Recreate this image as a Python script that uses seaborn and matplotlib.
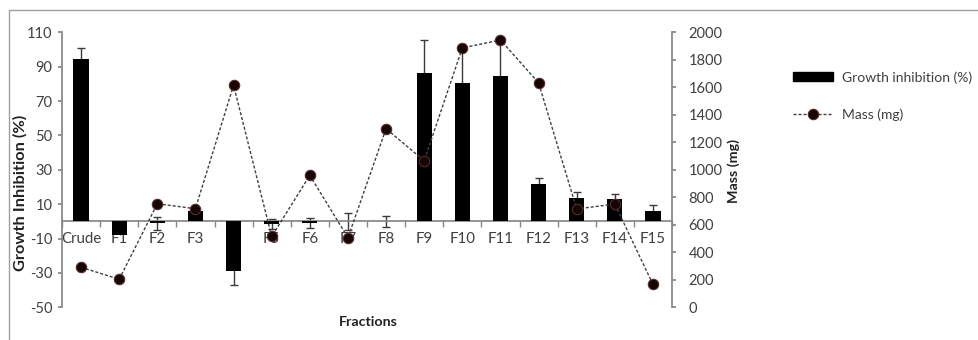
import matplotlib
matplotlib.use('Agg')
import matplotlib.pyplot as plt
import seaborn as sns
import numpy as np
from matplotlib.lines import Line2D
from matplotlib.patches import Patch

categories = ['Crude', 'F1', 'F2', 'F3', 'F4', 'F5', 'F6', 'F7', 'F8',
              'F9', 'F10', 'F11', 'F12', 'F13', 'F14', 'F15']
growth = [94.5, -7.8, -1.1, 5.8, -29.0, -1.7, -1.0, 0.0, 0.0,
          86.5, 80.5, 84.5, 22.0, 13.7, 12.8, 6.0]
growth_err = [6.5, 0, 3.8, 0, 8.0, 2.8, 3.0, 5.0, 3.0,
              19.0, 22.0, 20.0, 3.0, 3.2, 3.0, 3.3]
mass = [291, 204, 753, 717, 1615, 515, 960, 506, 1299,
        1066, 1886, 1944, 1633, 715, 751, 167]
left_ticks = list(range(-50, 111, 20))
right_ticks = list(range(0, 2001, 200))

GRAY = '#868686'
TXT = '#404040'

sns.set_theme(style='white')
plt.rcParams['font.family'] = ['Lato', 'DejaVu Sans']
plt.rcParams['axes.unicode_minus'] = False

fig = plt.figure(figsize=(9.79, 3.4), dpi=100)
ax = fig.add_axes([62 / 979, 1 - 307.3 / 340, 610 / 979, 275 / 340])

pos = np.arange(len(categories))
sns.barplot(x=categories, y=growth, order=categories, ax=ax, color='black',
            saturation=1, width=0.4, linewidth=0, zorder=3)

g = np.array(growth)
e = np.array(growth_err)
m = e > 0
ax.errorbar(pos[m], g[m], yerr=e[m], fmt='none', ecolor='#3a3a3a',
            elinewidth=1, capsize=3, capthick=1, zorder=2)

ax.set_xlim(-0.5, 15.5)
ax.set_ylim(-50, 110)
ax.set_yticks(left_ticks)
ax.set_xticks(np.arange(-0.5, 15.6, 1), minor=True)
for s in ['top', 'right']:
    ax.spines[s].set_visible(False)
ax.spines['bottom'].set_position(('data', 0))
ax.spines['bottom'].set_color(GRAY)
ax.spines['left'].set_color(GRAY)
ax.tick_params(axis='x', which='major', bottom=True, length=0, pad=8,
               labelsize=10.8, labelcolor=TXT)
ax.tick_params(axis='x', which='minor', bottom=True, length=4,
               color=GRAY, direction='out')
ax.tick_params(axis='y', left=True, length=3, color=GRAY, pad=4,
               labelsize=10.5, labelcolor=TXT)
ax.set_xlabel('Fractions', fontsize=10.3, fontweight='bold', color='#222222')
ax.xaxis.set_label_coords(0.502, -0.053)
ax.xaxis.label.set(va='center', ha='center')
ax.set_ylabel('Growth Inhibition (%)', fontsize=11.8, fontweight='bold',
              color='#222222')
ax.yaxis.set_label_coords(-0.0689, 0.417)
ax.yaxis.label.set(va='center', ha='center', rotation_mode='default')

ax2 = ax.twinx()
sns.lineplot(x=pos, y=mass, ax=ax2, color='#404040', linewidth=1,
             linestyle=(0, (2.2, 1.4)), marker='o', markersize=7.5,
             markerfacecolor='#150505', markeredgecolor='#5a2a2a',
             markeredgewidth=0.8, zorder=4)
ax2.set_xlim(-0.5, 15.5)
ax2.set_ylim(0, 2000)
ax2.set_yticks(right_ticks)
ax2.grid(False)
for s in ['top', 'left', 'bottom']:
    ax2.spines[s].set_visible(False)
ax2.spines['right'].set_color(GRAY)
ax2.tick_params(axis='y', right=True, length=3, color=GRAY, pad=9,
                labelsize=10.5, labelcolor=TXT)
ax2.set_ylabel('Mass (mg)', fontsize=10.3, fontweight='bold', color='#222222')
ax2.yaxis.set_label_coords(1.1016, 0.496)
ax2.yaxis.label.set(va='center', ha='center', rotation_mode='default')

handles = [Patch(facecolor='black', edgecolor='black'),
           Line2D([0], [0], color='#404040', lw=1, ls=(0, (2.2, 1.4)),
                  marker='o', ms=7.5, mfc='#150505', mec='#5a2a2a', mew=0.8)]
fig.legend(handles, ['Growth inhibition (%)', 'Mass (mg)'], loc='upper left',
           bbox_to_anchor=(793 / 979, 1 - 71 / 340), frameon=False,
           fontsize=10, handlelength=2.9, handleheight=0.6, labelspacing=1.8,
           borderpad=0, borderaxespad=0, handletextpad=0.6, labelcolor=TXT)

fig.add_artist(Line2D([9 / 979, 1], [1 - 10 / 340, 1 - 10 / 340],
                      transform=fig.transFigure, color='#a0a0a0', lw=1))
fig.add_artist(Line2D([9 / 979, 9 / 979], [0, 1 - 10 / 340],
                      transform=fig.transFigure, color='#a0a0a0', lw=1))

fig.savefig('out.png', dpi=100)
